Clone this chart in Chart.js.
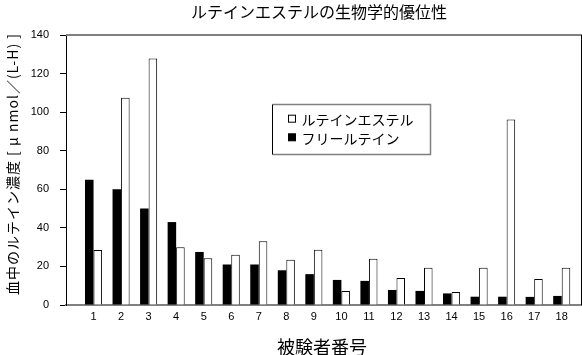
<!DOCTYPE html>
<html><head><meta charset="utf-8">
<script src="https://cdn.jsdelivr.net/npm/chart.js@4/dist/chart.umd.min.js"></script>
<style>html,body{margin:0;padding:0;background:#fff;}canvas{display:block}</style>
</head><body>
<canvas id="c" width="582" height="355"></canvas>
<script>
// ---- data ----
const categories = ['1','2','3','4','5','6','7','8','9','10','11','12','13','14','15','16','17','18'];
const freeLutein  = [65, 60, 50, 43, 27.5, 21, 21, 18, 16, 13, 12.5, 7.8, 7.3, 6, 4.3, 4.3, 4.2, 4.7];
const luteinEster = [28.5, 107.5, 127.8, 30, 24.3, 26, 33, 23.4, 28.6, 7.3, 24, 14, 19.3, 6.8, 19.3, 96.2, 13.5, 19.3];
const yTickValues = [0, 20, 40, 60, 80, 100, 120, 140];
const seriesNames = ['フリールテイン', 'ルテインエステル'];
const chartTitle = 'ルテインエステルの生物学的優位性';
const xTitle = '被験者番号';
const yTitle = '血中のルテイン濃度 [ μ nmol／(L-H) ]';

const JP = '"Noto Sans CJK JP", "Noto Sans", sans-serif';
const LAT = '"Liberation Sans", Arial, sans-serif';

const toPoints = arr => arr.map((v, i) => ({ x: i + 1, y: v }));

const decor = {
  id: 'decor',
  afterDraw(chart) {
    const ctx = chart.ctx, a = chart.chartArea;
    ctx.save();
    // top frame line (grey) and right frame line
    ctx.strokeStyle = '#808080'; ctx.lineWidth = 2;
    ctx.beginPath(); ctx.moveTo(a.left, 35); ctx.lineTo(582, 35); ctx.stroke();
    ctx.strokeStyle = '#000'; ctx.lineWidth = 1;
    ctx.beginPath(); ctx.moveTo(581.5, 35); ctx.lineTo(581.5, a.bottom); ctx.stroke();
    // chart title
    ctx.fillStyle = '#000'; ctx.textAlign = 'center'; ctx.textBaseline = 'middle';
    ctx.font = '16px ' + JP;
    ctx.fillText(chartTitle, 319, 12);
    // x title
    ctx.font = '18px ' + JP;
    ctx.fillText(xTitle, 322, 347);
    // y title
    ctx.save();
    ctx.translate(13, 164); ctx.rotate(-Math.PI / 2);
    ctx.font = '14px ' + JP;
    if ('letterSpacing' in ctx) ctx.letterSpacing = '1px';
    ctx.fillText(yTitle, 0, 0);
    ctx.restore();
    // legend
    const lx = 272.5, ly = 104.5, lw = 158, lh = 50;
    ctx.fillStyle = '#fff'; ctx.fillRect(lx, ly, lw, lh);
    ctx.strokeStyle = '#808080'; ctx.lineWidth = 1.5;
    ctx.beginPath(); ctx.moveTo(lx, ly); ctx.lineTo(lx + lw, ly); ctx.lineTo(lx + lw, ly + lh); ctx.lineTo(lx, ly + lh); ctx.stroke();
    ctx.strokeStyle = '#000'; ctx.lineWidth = 1;
    ctx.beginPath(); ctx.moveTo(lx, ly); ctx.lineTo(lx, ly + lh); ctx.stroke();
    const ds = chart.data.datasets.slice().reverse();
    const rows = [118.7, 137.3];
    ds.forEach((d, i) => {
      const cy = rows[i];
      ctx.fillStyle = d.backgroundColor;
      ctx.fillRect(288.5, cy - 3.5, 7, 7);
      ctx.strokeStyle = '#000'; ctx.lineWidth = 1;
      ctx.strokeRect(288.5, cy - 3.5, 7, 7);
      ctx.fillStyle = '#000'; ctx.textAlign = 'left'; ctx.textBaseline = 'middle';
      ctx.font = '14px ' + JP;
      ctx.fillText(d.label, 301.5, cy + 1);
    });
    ctx.restore();
  }
};

new Chart(document.getElementById('c'), {
  type: 'bar',
  data: {
    datasets: [
      { label: seriesNames[0], data: toPoints(freeLutein), backgroundColor: '#000', borderWidth: 0 },
      { label: seriesNames[1], data: toPoints(luteinEster), backgroundColor: '#fff', borderColor: '#000', borderWidth: 1 }
    ]
  },
  options: {
    responsive: false, animation: false, devicePixelRatio: 1,
    layout: { padding: { top: 35, left: 0, right: 1, bottom: 30 } },
    datasets: { bar: { barPercentage: 1, categoryPercentage: 0.62 } },
    plugins: { legend: { display: false }, title: { display: false }, tooltip: { enabled: false } },
    scales: {
      x: {
        type: 'linear', min: 0, max: 18.7, offset: false,
        grid: { display: false, drawTicks: false },
        border: { display: true, color: '#808080', width: 2 },
        afterBuildTicks: s => { s.ticks = categories.map((c, i) => ({ value: i + 1 })); },
        ticks: {
          autoSkip: false, maxRotation: 0, padding: 5, color: '#000',
          font: { family: LAT, size: 11 },
          callback: v => categories[v - 1]
        },
        afterFit: s => { s.height = 20; }
      },
      y: {
        min: 0, max: 140,
        afterBuildTicks: s => { s.ticks = yTickValues.map(v => ({ value: v })); },
        grid: { drawOnChartArea: false, drawTicks: true, tickLength: 6, color: '#000' },
        border: { display: true, color: '#000', width: 1 },
        ticks: { padding: 11, color: '#000', font: { family: LAT, size: 11 } },
        afterFit: s => { s.width = 66; }
      }
    }
  },
  plugins: [decor]
});
</script>
</body></html>
